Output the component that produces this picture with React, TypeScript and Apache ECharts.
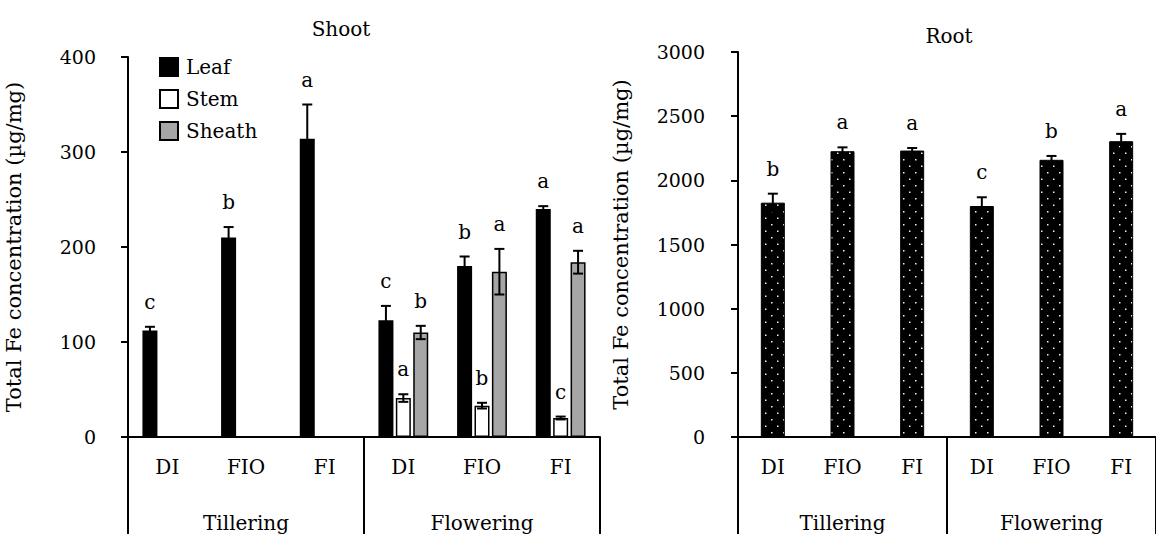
import React, { useEffect, useRef } from 'react';
import * as echarts from 'echarts';

const treatments = ['DI', 'FIO', 'FI', 'DI', 'FIO', 'FI'];
const stages = ['Tillering', 'Flowering'];

const leafMean = [112, 210, 314, 123, 180, 240];
const leafErr = [4, 11, 36, 15, 10, 3];
const leafLetters = ['c', 'b', 'a', 'c', 'b', 'a'];

const stemMean: (number | null)[] = [null, null, null, 41, 33, 20];
const stemErr: (number | null)[] = [null, null, null, 4, 3, 1.5];
const stemLetters = ['', '', '', 'a', 'b', 'c'];

const sheathMean: (number | null)[] = [null, null, null, 110, 174, 184];
const sheathErr: (number | null)[] = [null, null, null, 7, 24, 12];
const sheathLetters = ['', '', '', 'b', 'a', 'a'];

const rootMean = [1826, 2227, 2232, 1800, 2160, 2305];
const rootErr = [70, 30, 20, 68, 30, 57];
const rootLetters = ['b', 'a', 'a', 'c', 'b', 'a'];

const FONT = 'DejaVu Serif';
const BLACK = '#000';
const GRAY = '#a6a6a6';

function makeDots() {
  const c = document.createElement('canvas');
  c.width = 12;
  c.height = 13;
  const ctx = c.getContext('2d')!;
  ctx.fillStyle = '#000';
  ctx.fillRect(0, 0, 12, 13);
  ctx.fillStyle = '#f0f0f0';
  ctx.fillRect(3, 3, 1.5, 1.5);
  ctx.fillRect(9, 9.5, 1.5, 1.5);
  return c;
}

function errSeries(
  means: (number | null)[],
  errs: (number | null)[],
  letters: string[],
  slot: number,
  nSlots: number,
  barW: number,
  gap: number,
  axisIdx: number,
  capHalf: number
) {
  return {
    type: 'custom',
    xAxisIndex: axisIdx * 2,
    yAxisIndex: axisIdx,
    z: 10,
    silent: true,
    data: means.map((m, i) => [i, m == null ? 0 : m, errs[i] == null ? 0 : errs[i]]),
    renderItem: (params: any, api: any) => {
      const idx = params.dataIndex;
      if (means[idx] == null) return null;
      const i = api.value(0);
      const m = api.value(1);
      const e = api.value(2);
      const off = (slot - (nSlots - 1) / 2) * (barW + gap);
      const top = api.coord([i, m + e]);
      const bot = api.coord([i, m - e]);
      const x = top[0] + off;
      const ls = { stroke: BLACK, lineWidth: 2 };
      return {
        type: 'group',
        children: [
          { type: 'line', shape: { x1: x, y1: top[1], x2: x, y2: bot[1] }, style: ls },
          { type: 'line', shape: { x1: x - capHalf, y1: top[1], x2: x + capHalf, y2: top[1] }, style: ls },
          { type: 'line', shape: { x1: x - capHalf, y1: bot[1], x2: x + capHalf, y2: bot[1] }, style: ls },
          {
            type: 'text',
            x: x,
            y: top[1] - 15,
            style: {
              text: letters[idx],
              textAlign: 'center',
              textVerticalAlign: 'bottom',
              fontFamily: FONT,
              fontSize: 20,
              fill: BLACK,
            },
          },
        ],
      };
    },
  };
}

export default function App() {
  const ref = useRef<HTMLDivElement>(null);
  useEffect(() => {
    if (!ref.current) return;
    const chart = echarts.init(ref.current, undefined, { renderer: 'svg' });
    const dots = makeDots();
    const tick = { fontFamily: FONT, fontSize: 19, color: BLACK };
    const txt = { fontFamily: FONT, fontSize: 20, color: BLACK };
    const axisLineStyle = { color: BLACK, width: 2 };

    const catAxis = (grid: number) => ({
      type: 'category',
      gridIndex: grid,
      data: treatments,
      axisLine: { show: true, lineStyle: axisLineStyle },
      axisTick: { show: false },
      axisLabel: { ...txt, margin: 20 },
    });
    const groupAxis = (grid: number) => ({
      type: 'category',
      gridIndex: grid,
      data: stages,
      position: 'bottom',
      axisLine: { show: false },
      axisTick: { show: true, length: 100, lineStyle: axisLineStyle },
      axisLabel: { ...txt, margin: 76 },
    });
    const valAxis = (grid: number, max: number, interval: number, gap: number, margin: number) => ({
      type: 'value',
      gridIndex: grid,
      min: 0,
      max,
      interval,
      axisLine: { show: true, lineStyle: axisLineStyle },
      axisTick: { show: true, length: 7, lineStyle: axisLineStyle },
      splitLine: { show: false },
      axisLabel: { ...tick, margin, formatter: (v: number) => String(v) },
      name: 'Total Fe concentration (µg/mg)',
      nameLocation: 'middle',
      nameGap: gap,
      nameTextStyle: { ...txt, fontSize: 21 },
    });

    const LB = 15;
    const LG = 2.4;

    chart.setOption({
      animation: false,
      backgroundColor: '#fff',
      grid: [
        { left: 128, top: 57, width: 472, height: 380 },
        { left: 738, top: 52, width: 426, height: 385 },
      ],
      xAxis: [catAxis(0), groupAxis(0), catAxis(1), groupAxis(1)],
      yAxis: [valAxis(0, 400, 100, 104, 32), valAxis(1, 3000, 500, 107, 33)],
      legend: {
        data: ['Leaf', 'Stem', 'Sheath'],
        orient: 'vertical',
        left: 154,
        top: 52,
        itemWidth: 18,
        itemHeight: 18,
        itemGap: 12,
        icon: 'rect',
        textStyle: { ...txt, padding: [0, 0, 0, 3] },
      },
      graphic: [
        { type: 'text', x: 341, y: 29, style: { text: 'Shoot', textAlign: 'center', textVerticalAlign: 'middle', fontFamily: FONT, fontSize: 20, fill: BLACK } },
        { type: 'text', x: 949, y: 36, style: { text: 'Root', textAlign: 'center', textVerticalAlign: 'middle', fontFamily: FONT, fontSize: 20, fill: BLACK } },
      ],
      series: [
        {
          name: 'Leaf', type: 'bar', xAxisIndex: 0, yAxisIndex: 0, data: leafMean,
          barWidth: LB, barGap: (LG / LB) * 100 + '%',
          itemStyle: { color: BLACK, borderColor: BLACK, borderWidth: 1.5 },
        },
        {
          name: 'Stem', type: 'bar', xAxisIndex: 0, yAxisIndex: 0, data: stemMean,
          barWidth: LB, barGap: (LG / LB) * 100 + '%',
          itemStyle: { color: '#fff', borderColor: BLACK, borderWidth: 1.5 },
        },
        {
          name: 'Sheath', type: 'bar', xAxisIndex: 0, yAxisIndex: 0, data: sheathMean,
          barWidth: LB, barGap: (LG / LB) * 100 + '%',
          itemStyle: { color: GRAY, borderColor: BLACK, borderWidth: 1.5 },
        },
        {
          name: 'Root', type: 'bar', xAxisIndex: 2, yAxisIndex: 1, data: rootMean,
          barWidth: 24,
          itemStyle: { color: { image: dots, repeat: 'repeat', imageWidth: 12, imageHeight: 13 } as any, borderColor: BLACK, borderWidth: 1 },
        },
        errSeries(leafMean, leafErr, leafLetters, 0, 3, LB, LG, 0, 5),
        errSeries(stemMean, stemErr, stemLetters, 1, 3, LB, LG, 0, 5),
        errSeries(sheathMean, sheathErr, sheathLetters, 2, 3, LB, LG, 0, 5),
        errSeries(rootMean, rootErr, rootLetters, 0, 1, 24, 0, 1, 5),
      ],
    } as any);
    return () => chart.dispose();
  }, []);
  return (
    <div
      ref={ref}
      style={{ position: 'fixed', left: 0, top: 0, width: 1156, height: 534, background: '#fff' }}
    />
  );
}
